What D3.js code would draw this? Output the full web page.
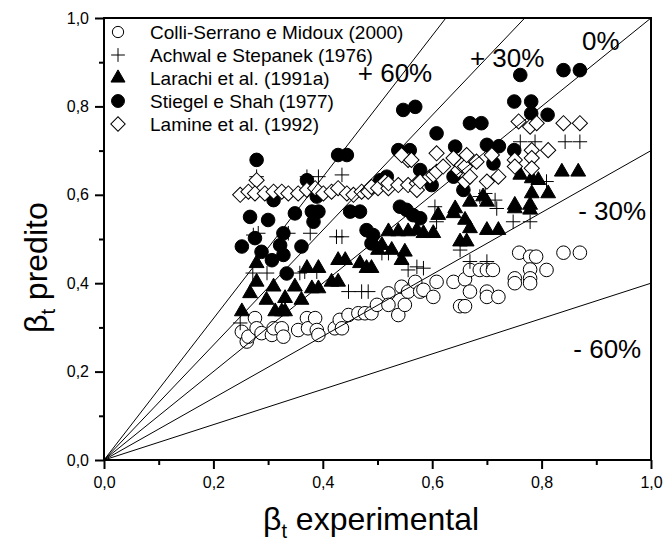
<!DOCTYPE html>
<html>
<head>
<script src="https://d3js.org/d3.v7.min.js"></script>
<style>
  body { margin: 0; background: #fff; }
  svg { display: block; font-family: "Liberation Sans", Arial, sans-serif; }
</style>
</head>
<body>
<div id="chart"></div>
<script>
// [beta_t experimental, beta_t predito]
const colliSerrano = [
  [0.252,0.290],[0.261,0.268],[0.264,0.279],[0.276,0.321],[0.279,0.298],[0.288,0.287],[0.307,0.283],
  [0.310,0.298],[0.325,0.298],[0.328,0.279],[0.355,0.294],[0.371,0.321],[0.373,0.298],[0.386,0.321],
  [0.389,0.294],[0.392,0.283],[0.422,0.298],[0.431,0.317],[0.435,0.298],[0.447,0.328],[0.465,0.332],
  [0.477,0.332],[0.489,0.332],[0.499,0.351],[0.520,0.377],[0.520,0.351],[0.538,0.328],[0.550,0.351],
  [0.544,0.392],[0.556,0.381],[0.569,0.403],[0.578,0.381],[0.584,0.385],[0.602,0.369],[0.608,0.403],
  [0.639,0.403],[0.651,0.348],[0.660,0.348],[0.660,0.409],[0.669,0.381],[0.669,0.430],[0.687,0.430],
  [0.700,0.430],[0.700,0.381],[0.700,0.369],[0.711,0.430],[0.721,0.369],[0.751,0.411],[0.751,0.400],
  [0.759,0.469],[0.779,0.460],[0.779,0.431],[0.779,0.411],[0.779,0.400],[0.790,0.460],[0.809,0.430],
  [0.840,0.469],[0.870,0.469]
];
const achwal = [
  [0.249,0.310],[0.272,0.423],[0.298,0.423],[0.358,0.423],[0.367,0.426],[0.389,0.426],[0.273,0.509],
  [0.282,0.513],[0.337,0.513],[0.377,0.513],[0.425,0.505],[0.435,0.505],[0.279,0.641],[0.371,0.641],
  [0.392,0.641],[0.435,0.645],[0.447,0.381],[0.471,0.381],[0.483,0.381],[0.508,0.468],[0.520,0.468],
  [0.556,0.430],[0.572,0.437],[0.584,0.434],[0.605,0.573],[0.608,0.539],[0.651,0.475],[0.669,0.449],
  [0.700,0.449],[0.687,0.596],[0.697,0.603],[0.715,0.588],[0.718,0.569],[0.748,0.539],[0.779,0.539],
  [0.809,0.630],[0.761,0.720],[0.788,0.720],[0.843,0.720],[0.870,0.720]
];
const larachi = [
  [0.252,0.336],[0.267,0.377],[0.279,0.403],[0.279,0.445],[0.297,0.362],[0.310,0.392],[0.313,0.336],
  [0.325,0.336],[0.331,0.366],[0.331,0.336],[0.349,0.392],[0.361,0.362],[0.371,0.434],[0.380,0.388],
  [0.392,0.434],[0.392,0.388],[0.416,0.403],[0.428,0.403],[0.428,0.452],[0.441,0.452],[0.468,0.445],
  [0.480,0.434],[0.489,0.434],[0.501,0.475],[0.526,0.475],[0.544,0.452],[0.508,0.486],[0.520,0.517],
  [0.538,0.517],[0.556,0.517],[0.572,0.520],[0.550,0.471],[0.584,0.513],[0.602,0.513],[0.611,0.554],
  [0.639,0.558],[0.642,0.569],[0.651,0.494],[0.663,0.494],[0.660,0.543],[0.669,0.524],[0.669,0.584],
  [0.693,0.596],[0.700,0.584],[0.700,0.520],[0.721,0.520],[0.751,0.569],[0.751,0.577],[0.779,0.566],
  [0.779,0.577],[0.782,0.603],[0.812,0.603],[0.761,0.645],[0.782,0.637],[0.794,0.633],[0.837,0.652],
  [0.867,0.652]
];
const stiegel = [
  [0.279,0.679],[0.371,0.633],[0.428,0.690],[0.444,0.690],[0.310,0.588],[0.389,0.596],[0.267,0.550],
  [0.300,0.543],[0.349,0.558],[0.380,0.562],[0.392,0.562],[0.383,0.539],[0.450,0.562],[0.468,0.562],
  [0.480,0.520],[0.276,0.502],[0.252,0.483],[0.328,0.513],[0.322,0.486],[0.361,0.483],[0.489,0.490],
  [0.288,0.471],[0.307,0.452],[0.328,0.464],[0.334,0.422],[0.547,0.792],[0.569,0.799],[0.538,0.701],
  [0.559,0.701],[0.608,0.739],[0.642,0.709],[0.505,0.633],[0.517,0.641],[0.541,0.573],[0.553,0.566],
  [0.565,0.554],[0.578,0.547],[0.492,0.509],[0.578,0.656],[0.669,0.762],[0.690,0.762],[0.700,0.713],
  [0.722,0.710],[0.750,0.701],[0.761,0.871],[0.840,0.882],[0.870,0.882],[0.750,0.811],[0.781,0.811],
  [0.781,0.784],[0.811,0.781],[0.712,0.671],[0.599,0.622],[0.639,0.641],[0.657,0.611]
];
const lamine = [
  [0.249,0.600],[0.264,0.607],[0.279,0.633],[0.276,0.603],[0.294,0.603],[0.310,0.607],[0.325,0.607],
  [0.337,0.603],[0.355,0.603],[0.371,0.611],[0.386,0.615],[0.401,0.603],[0.416,0.607],[0.428,0.615],
  [0.444,0.603],[0.456,0.600],[0.471,0.607],[0.483,0.607],[0.489,0.618],[0.501,0.615],[0.514,0.630],
  [0.520,0.615],[0.520,0.626],[0.538,0.622],[0.556,0.622],[0.572,0.626],[0.572,0.611],[0.578,0.630],
  [0.556,0.679],[0.544,0.690],[0.562,0.679],[0.596,0.641],[0.602,0.645],[0.608,0.652],[0.620,0.664],
  [0.608,0.694],[0.639,0.683],[0.648,0.656],[0.654,0.667],[0.660,0.664],[0.663,0.690],[0.660,0.630],
  [0.669,0.641],[0.681,0.675],[0.700,0.630],[0.709,0.690],[0.721,0.641],[0.751,0.679],[0.751,0.664],
  [0.758,0.766],[0.779,0.754],[0.791,0.762],[0.782,0.701],[0.812,0.701],[0.782,0.683],[0.782,0.660],
  [0.840,0.762],[0.870,0.762]
];

const seriesNames = ['Colli-Serrano e Midoux (2000)', 'Achwal e Stepanek (1976)', 'Larachi et al. (1991a)',
                     'Stiegel e Shah (1977)', 'Lamine et al. (1992)'];
const deviations = [0.6, 0.3, 0, -0.3, -0.6];
const deviationLabels = ['+ 60%', '+ 30%', '0%', '- 30%', '- 60%'];
// where each label sits, in data units [x, y]
const deviationLabelPos = [[0.464, 0.855], [0.669, 0.889], [0.874, 0.928], [0.867, 0.543], [0.858, 0.231]];
const ticks = [0, 0.2, 0.4, 0.6, 0.8, 1.0];
const minorTicks = [0.1, 0.3, 0.5, 0.7, 0.9];

const w = 664, h = 549;
const margin = {left: 104, right: 13, top: 18, bottom: 89};

const svg = d3.select('#chart').append('svg').attr('width', w).attr('height', h);

const x = d3.scaleLinear().domain([0, 1]).range([margin.left, w - margin.right]);
const y = d3.scaleLinear().domain([0, 1]).range([h - margin.bottom, margin.top]);

const fmt = d3.formatLocale({decimal: ',', thousands: '.', grouping: [3], currency: ['', '']}).format('.1f');

svg.append('clipPath').attr('id', 'plotclip')
  .append('rect')
  .attr('x', x(0)).attr('y', y(1))
  .attr('width', x(1) - x(0)).attr('height', y(0) - y(1));

// minor ticks
svg.append('g').attr('transform', 'translate(0,' + y(0) + ')')
  .call(d3.axisBottom(x).tickValues(minorTicks).tickSize(5).tickFormat(''))
  .call(g => g.select('.domain').remove())
  .selectAll('line').attr('stroke-width', 2);
svg.append('g').attr('transform', 'translate(' + x(0) + ',0)')
  .call(d3.axisLeft(y).tickValues(minorTicks).tickSize(5).tickFormat(''))
  .call(g => g.select('.domain').remove())
  .selectAll('line').attr('stroke-width', 2);

// major ticks
const xAxis = svg.append('g').attr('transform', 'translate(0,' + y(0) + ')')
  .call(d3.axisBottom(x).tickValues(ticks).tickSize(9).tickPadding(8).tickFormat(fmt));
const yAxis = svg.append('g').attr('transform', 'translate(' + x(0) + ',0)')
  .call(d3.axisLeft(y).tickValues(ticks).tickSize(9).tickPadding(6).tickFormat(fmt));
[xAxis, yAxis].forEach(a => {
  a.select('.domain').remove();
  a.selectAll('line').attr('stroke-width', 2);
  a.selectAll('text').attr('font-size', 16).attr('font-family', '"Liberation Sans", Arial, sans-serif').attr('fill', '#000');
});

const plot = svg.append('g').attr('clip-path', 'url(#plotclip)');

// symbols
const plusSymbol = {
  draw(ctx, size) {
    const r = Math.sqrt(size) / 2;
    ctx.moveTo(-r, 0); ctx.lineTo(r, 0);
    ctx.moveTo(0, -r); ctx.lineTo(0, r);
  }
};
const styles = [
  {type: d3.symbolCircle, size: 145, fill: '#fff', stroke: '#000', rot: 0, sw: 1},
  {type: plusSymbol, size: 210, fill: 'none', stroke: '#000', rot: 0, sw: 1},
  {type: d3.symbolTriangle, size: 95, fill: '#000', stroke: '#000', rot: 0, sw: 1},
  {type: d3.symbolCircle, size: 145, fill: '#000', stroke: '#000', rot: 0, sw: 1},
  {type: d3.symbolSquare, size: 115, fill: '#fff', stroke: '#000', rot: 45, sw: 1}
];
const allSeries = [colliSerrano, achwal, larachi, stiegel, lamine];

allSeries.forEach((data, i) => {
  const s = styles[i];
  plot.append('g').selectAll('path')
    .data(data)
    .enter()
    .append('path')
    .attr('d', d3.symbol().type(s.type).size(s.size))
    .attr('transform', d => 'translate(' + x(d[0]) + ',' + y(d[1]) + ') rotate(' + s.rot + ')')
    .attr('fill', s.fill)
    .attr('stroke', s.stroke)
    .attr('stroke-width', s.sw);
});

// deviation lines
plot.append('g').selectAll('line')
  .data(deviations)
  .enter()
  .append('line')
  .attr('x1', x(0)).attr('y1', y(0))
  .attr('x2', x(1)).attr('y2', d => y(1 + d))
  .attr('stroke', '#000').attr('stroke-width', 1);

svg.append('g').selectAll('text')
  .data(deviationLabels)
  .enter()
  .append('text')
  .attr('x', (d, i) => x(deviationLabelPos[i][0]))
  .attr('y', (d, i) => y(deviationLabelPos[i][1]))
  .attr('font-size', 26)
  .text(d => d);

// frame
svg.append('rect')
  .attr('x', x(0)).attr('y', y(1))
  .attr('width', x(1) - x(0)).attr('height', y(0) - y(1))
  .attr('fill', 'none').attr('stroke', '#000').attr('stroke-width', 2);

// legend
const legend = svg.append('g').attr('transform', 'translate(118,32)');
seriesNames.forEach((name, i) => {
  const s = styles[i];
  const row = legend.append('g').attr('transform', 'translate(0,' + (i * 23) + ')');
  row.append('path')
    .attr('d', d3.symbol().type(s.type).size(i === 0 ? 100 : s.size * 0.9))
    .attr('transform', 'rotate(' + s.rot + ')')
    .attr('fill', s.fill).attr('stroke', s.stroke).attr('stroke-width', s.sw);
  row.append('text').attr('x', 32).attr('y', 7).attr('font-size', 19).text(name);
});

// axis titles
const xt = svg.append('text').attr('x', 263).attr('y', 530).attr('font-size', 32);
xt.append('tspan').text('\u03B2');
xt.append('tspan').attr('font-size', 20).attr('dy', 8).text('t');
xt.append('tspan').attr('dy', -8).text(' experimental');

const yt = svg.append('text').attr('transform', 'translate(47,333) rotate(-90)').attr('font-size', 32);
yt.append('tspan').text('\u03B2');
yt.append('tspan').attr('font-size', 20).attr('dy', 8).text('t');
yt.append('tspan').attr('dy', -8).text(' predito');
</script>
</body>
</html>
